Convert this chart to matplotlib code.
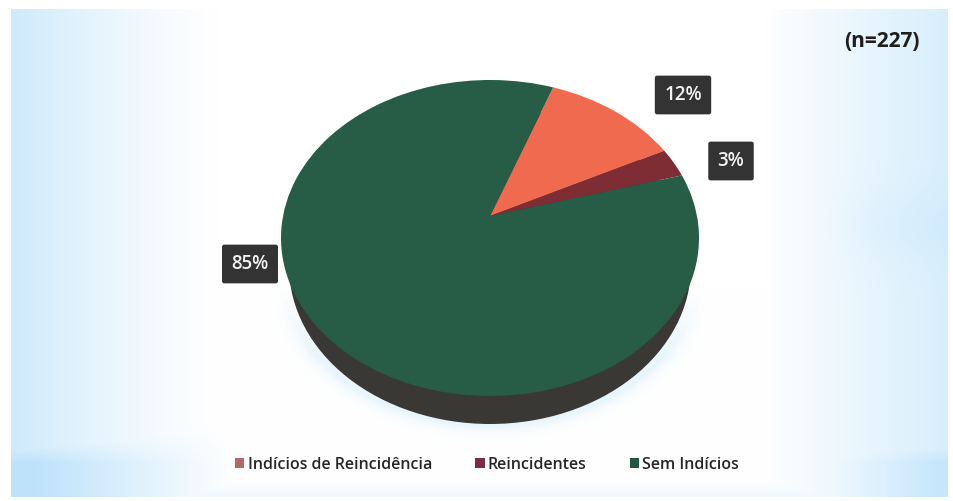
import matplotlib
matplotlib.use('Agg')
import matplotlib.pyplot as plt
from matplotlib.patches import Ellipse, Patch
from matplotlib.transforms import Transform
import numpy as np

labels = ['Indícios de Reincidência', 'Reincidentes', 'Sem Indícios']
values = [12, 3, 85]
top_colors = ['#ef6a4e', '#7f2d35', '#275c46']
legend_colors = ['#b5686a', '#7b2c44', '#22573f']
sample_note = '(n=227)'

plt.rcParams['font.family'] = ['Open Sans', 'DejaVu Sans']

W, H = 954, 501
CX, CY, RX, RY = 490, 238, 209, 158
DEPTH = 28
SIDE_COLOR = '#3a3835'


class TiltedDisc(Transform):
    # projective map of the unit disc, pushes the centre towards the back rim
    input_dims = output_dims = 2
    has_inverse = False

    def __init__(self, a=0.139):
        super().__init__()
        self.a = a

    def transform_non_affine(self, xy):
        xy = np.asarray(xy, dtype=float)
        u, v = xy[:, 0], xy[:, 1]
        d = 1 + self.a * v
        x = u * np.sqrt(1 - self.a ** 2) / d
        y = (v + self.a) / d
        return np.column_stack([CX + RX * x, CY - RY * y])


def background():
    yy, xx = np.mgrid[0:H, 0:W]
    left = np.clip((220 - xx) / 205, 0, 1) ** 1.3
    right = np.clip((xx - 765) / 180, 0, 1) ** 0.9
    s = np.maximum(left * 0.62, right * 0.5)
    # slightly stronger band on the right, mid height
    band = np.exp(-((yy - 225) / 35) ** 2) * np.clip((xx - 820) / 60, 0, 1) * 0.1
    s = s + band
    # darker bands low in the corners
    low = np.clip((yy - 418) / 45, 0, 1)
    s = np.maximum(s, low * np.maximum(np.clip((235 - xx) / 200, 0, 1) * 0.85,
                                       np.clip((xx - 790) / 150, 0, 1) * 0.75))
    s = np.maximum(s, np.clip((yy - 480) / 16, 0, 1) * 0.18)
    # pale halo under the pie
    r = np.hypot((xx - CX) / (RX + 2), (yy - CY - DEPTH) / (RY + 2))
    fade = np.clip((yy - 285) / 70, 0, 1)
    s = np.maximum(s, np.exp(-np.clip(r - 1, 0, None) * 28) * fade * 0.28)
    s = s * ((xx > 10) & (xx < 948) & (yy > 8) & (yy < 497))
    white = np.array([1.0, 1.0, 1.0])
    tint = np.array([0.70, 0.87, 0.98])
    return white + (tint - white) * np.clip(s, 0, 1)[..., None]


fig = plt.figure(figsize=(W / 100, H / 100), dpi=100)
ax = fig.add_axes([0, 0, 1, 1])

wedges, _ = ax.pie(values, colors=top_colors, startangle=69.8, counterclock=False)
ax.set_aspect('auto')
ax.set_xlim(0, W)
ax.set_ylim(H, 0)
ax.axis('off')
disc = TiltedDisc() + ax.transData
for w in wedges:
    w.set_transform(disc)
    w.set_zorder(3)

ax.imshow(background(), extent=(0, W, H, 0), aspect='auto', zorder=0)

# side wall of the pie, narrower so it only shows along the front
ax.add_patch(Ellipse((CX, CY + DEPTH), 2 * (RX - 8), 2 * RY, fc=SIDE_COLOR, ec='none', zorder=2))

label_pos = [(683, 95), (731, 161), (250, 264)]
for v, (x, y) in zip(values, label_pos):
    ax.text(x, y, f'{v}%', color='#f2f2f2', fontsize=13.5, fontweight='semibold', ha='center',
            va='center', zorder=5,
            bbox=dict(boxstyle='round,pad=0.5,rounding_size=0.12', fc='#333333', ec='none'))

ax.text(882, 41, sample_note, color='#1e1e1e', fontsize=15, fontweight='bold',
        ha='center', va='center', zorder=5)

handles = [Patch(fc=c, ec='none') for c in legend_colors]
leg = ax.legend(handles, labels, loc='center', bbox_to_anchor=(487 / W, 1 - 465 / H), ncol=3,
                frameon=False, handlelength=0.6, handleheight=0.6,
                handletextpad=0.2, columnspacing=2.7, labelcolor='#262626',
                prop={'weight': 'semibold', 'size': 11.5})

fig.savefig('out.png', dpi=100)
